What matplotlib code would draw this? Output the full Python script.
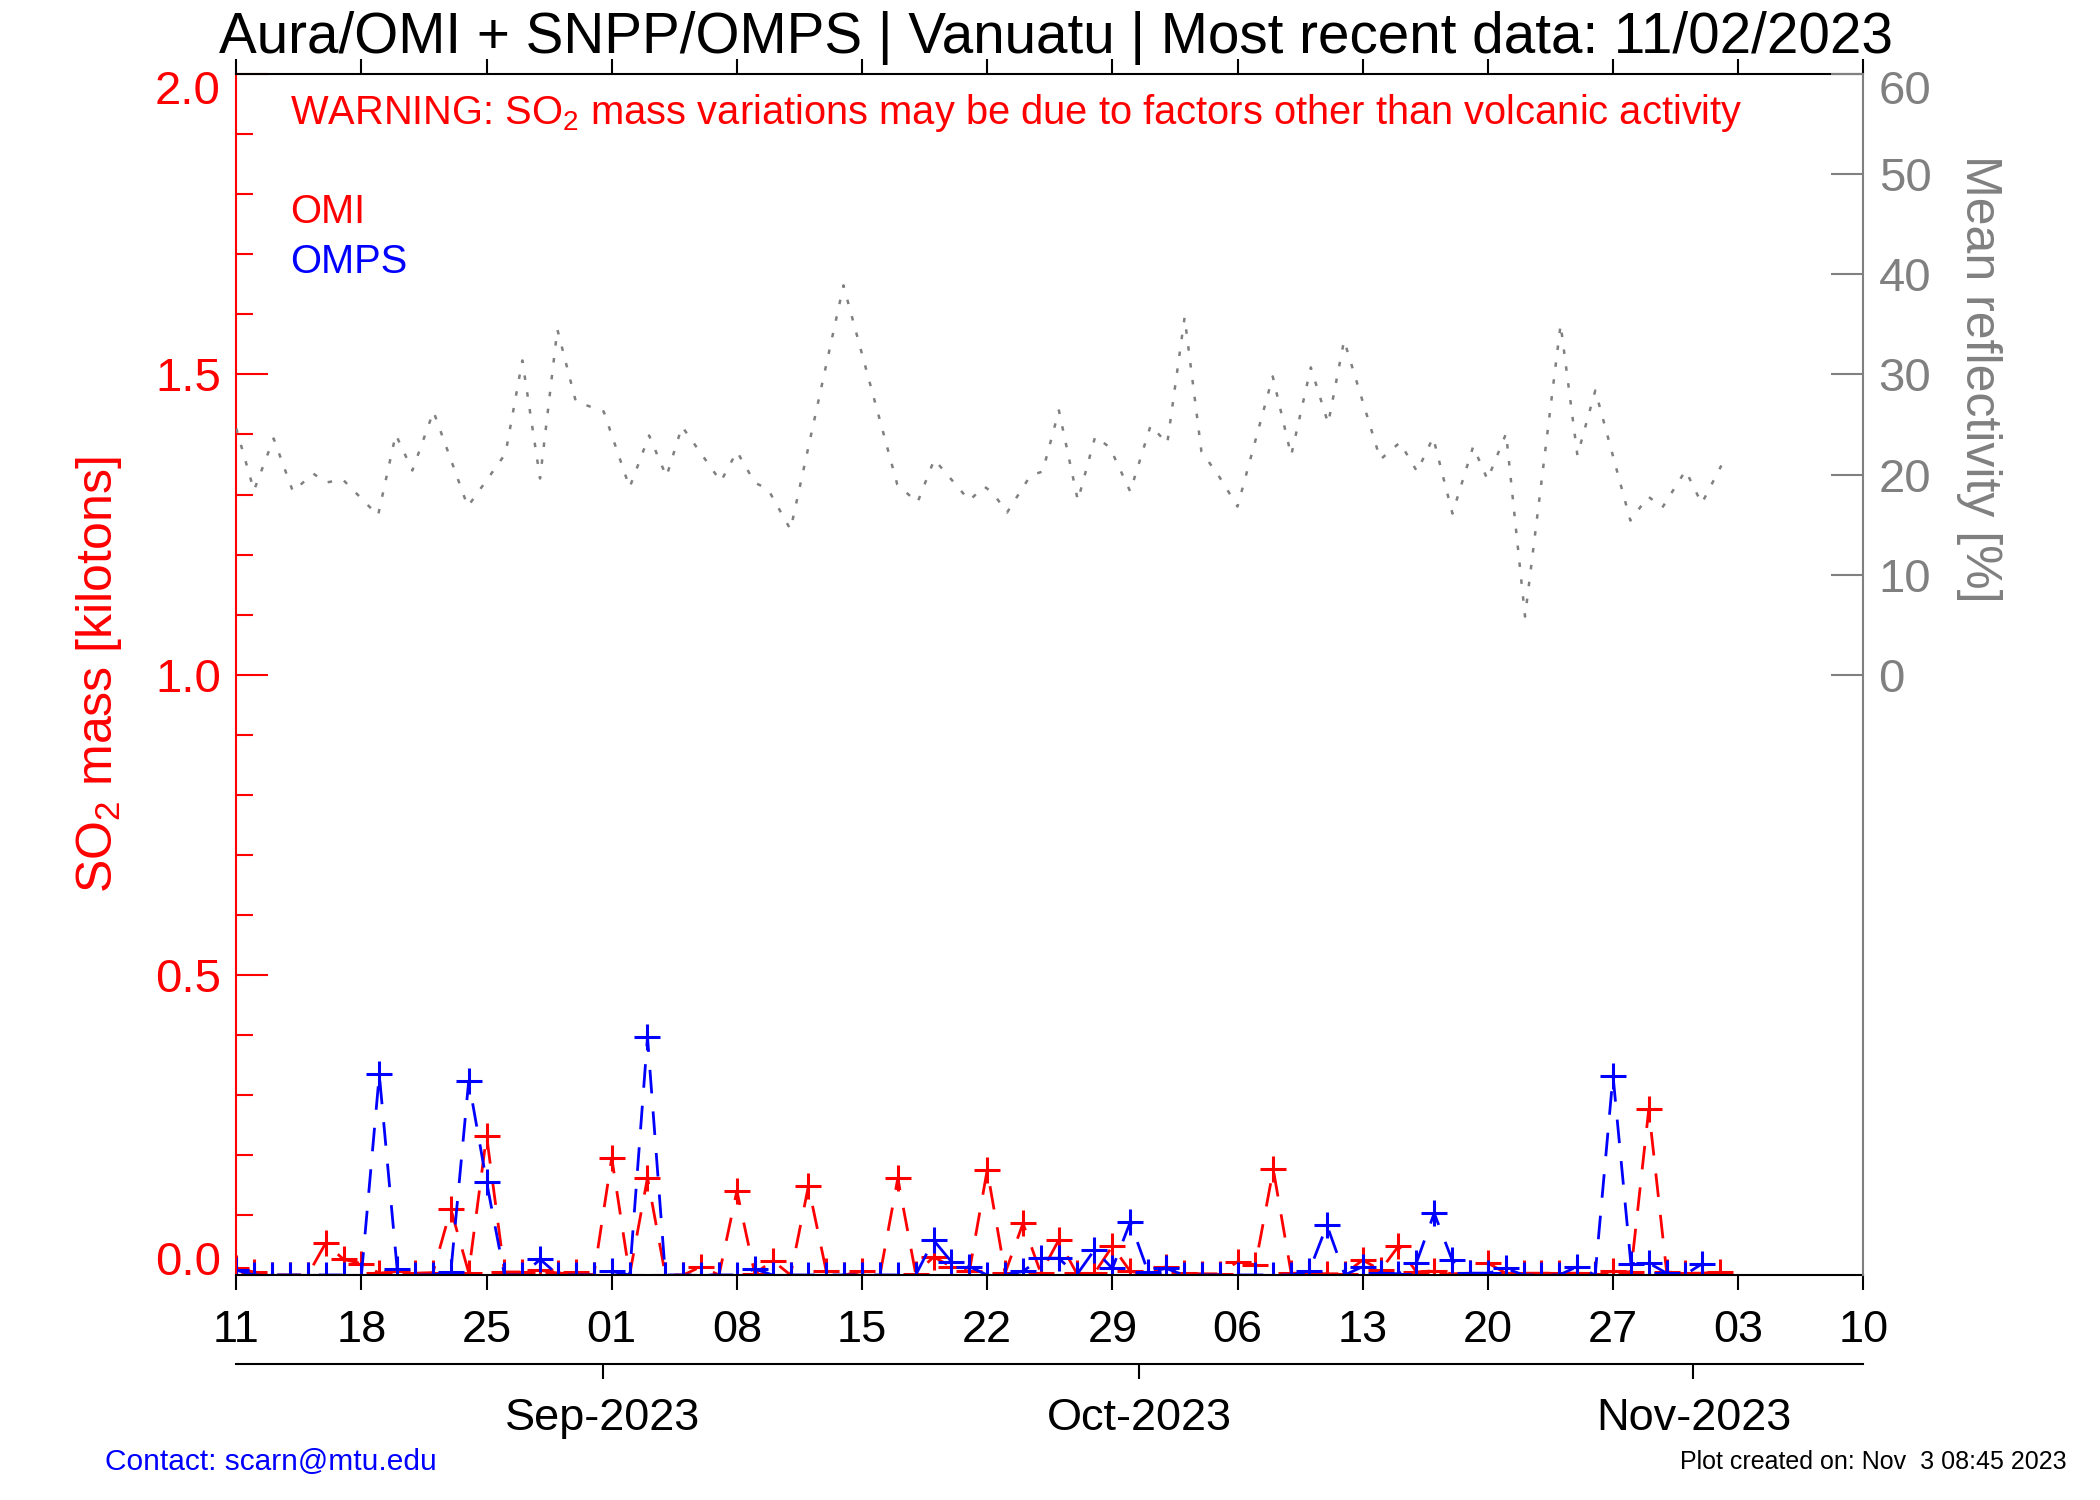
import matplotlib
matplotlib.use('Agg')
import matplotlib.pyplot as plt
import matplotlib.dates as mdates
import matplotlib.transforms as mtransforms
from matplotlib.ticker import MultipleLocator
import numpy as np
import pandas as pd

plt.rcParams['font.family'] = ['Liberation Sans', 'DejaVu Sans']
plt.rcParams['mathtext.default'] = 'regular'

start = pd.Timestamp('2023-08-11')
end = pd.Timestamp('2023-11-10')

# daily SO2 mass [kt], first value = Aug 11
omi_so2 = [0.011, 0.005, 0.0, 0.0, 0.0, 0.053, 0.026, 0.019, 0.003, 0.006,
           0.003, 0.004, 0.110, 0.004, 0.232, 0.005, 0.005, 0.008, 0.003, 0.005,
           0.0, 0.195, 0.0, 0.162, 0.0, 0.0, 0.014, 0.0, 0.140, 0.002,
           0.024, 0.0, 0.148, 0.006, 0.0, 0.006, 0.0, 0.161, 0.002, 0.030,
           0.014, 0.006, 0.175, 0.003, 0.086, 0.003, 0.058, 0.003, 0.003, 0.048,
           0.006, 0.002, 0.014, 0.003, 0.002, 0.002, 0.022, 0.017, 0.176, 0.003,
           0.003, 0.002, 0.002, 0.025, 0.008, 0.048, 0.005, 0.007, 0.002, 0.003,
           0.020, 0.003, 0.003, 0.003, 0.003, 0.003, 0.002, 0.006, 0.005, 0.276,
           0.005, 0.003, 0.003, 0.005]
omps_so2 = [0.008, 0.0, 0.0, 0.0, 0.0, 0.0, 0.0, 0.0, 0.334, 0.010,
            0.0, 0.0, 0.005, 0.323, 0.155, 0.0, 0.0, 0.026, 0.0, 0.0,
            0.0, 0.006, 0.0, 0.396, 0.0, 0.0, 0.0, 0.0, 0.0, 0.010,
            0.0, 0.0, 0.0, 0.0, 0.0, 0.0, 0.0, 0.0, 0.0, 0.058,
            0.022, 0.014, 0.0, 0.0, 0.006, 0.028, 0.028, 0.0, 0.042, 0.011,
            0.088, 0.005, 0.011, 0.0, 0.0, 0.0, 0.0, 0.0, 0.0, 0.0,
            0.006, 0.083, 0.0, 0.014, 0.003, 0.002, 0.020, 0.103, 0.025, 0.003,
            0.003, 0.011, 0.0, 0.0, 0.0, 0.014, 0.0, 0.332, 0.019, 0.020,
            0.003, 0.0, 0.019]

# mean reflectivity [%], time in days after Aug 11
refl_day = [0.0, 0.99, 2.09, 3.17, 4.30, 5.03, 5.96, 7.93, 8.92, 9.85,
            11.03, 12.95, 14.55, 15.06, 16.0, 16.99, 17.96, 18.99, 20.55, 22.0,
            23.09, 24.06, 24.93, 27.1, 28.0, 29.0, 29.75, 31.0, 33.96, 36.97,
            38.1, 39.04, 41.0, 41.83, 42.3, 43.11, 44.42, 45.1, 46.01, 47.07,
            48.04, 48.86, 50.0, 51.14, 52.07, 53.04, 53.98, 54.97, 56.0, 57.97,
            59.0, 60.1, 61.07, 61.96, 63.99, 65.08, 66.04, 66.94, 68.02, 69.18,
            69.98, 71.02, 72.08, 74.07, 75.01, 76.01, 77.97, 78.97, 79.76, 81.06,
            81.96, 83.06]
refl_pct = [24.6, 18.4, 23.6, 18.3, 20.1, 19.2, 19.5, 15.9, 24.0, 20.4,
            26.3, 16.8, 20.8, 22.1, 31.4, 19.6, 34.5, 27.3, 26.3, 18.7,
            23.9, 19.8, 24.8, 19.3, 22.3, 19.2, 18.5, 14.5, 38.9, 19.0,
            17.2, 21.5, 17.4, 18.8, 18.2, 16.2, 19.9, 20.3, 26.4, 17.4,
            23.8, 22.7, 18.3, 24.9, 23.1, 35.7, 22.3, 19.8, 16.8, 29.8,
            21.9, 30.7, 25.1, 33.4, 21.5, 23.2, 20.3, 23.7, 16.1, 22.8,
            19.5, 24.1, 5.8, 35.0, 21.9, 28.4, 15.4, 17.8, 16.7, 20.4,
            17.1, 20.9]

week_ticks = pd.date_range(start, end, freq='7D')
month_ticks = pd.to_datetime(['2023-09-01', '2023-10-01', '2023-11-01']) - pd.Timedelta(hours=12)
month_labels = ['Sep-2023', 'Oct-2023', 'Nov-2023']

omi_dates = pd.date_range(start, periods=len(omi_so2), freq='D')
omps_dates = pd.date_range(start, periods=len(omps_so2), freq='D')
refl_dates = start + pd.to_timedelta(refl_day, unit='D')

fig = plt.figure(figsize=(21, 15), dpi=100)
ax = fig.add_axes([0.1125, 0.15, 0.7748, 0.8005])
ax2 = ax.twinx()

ax2.plot(refl_dates, refl_pct, color='gray', lw=1.8, dashes=(1.8, 5))
ax.plot(omi_dates, omi_so2, color='red', lw=2, dashes=(8.5, 6.5),
        marker='+', ms=19, mew=2.2)
ax.plot(omps_dates, omps_so2, color='blue', lw=2, dashes=(8.5, 6.5),
        marker='+', ms=19, mew=2.2)

ax.set_xlim(start, end)
ax.set_ylim(0, 2)
ax2.set_ylim(-60, 60)

ax.set_xticks(week_ticks)
ax.xaxis.set_major_formatter(mdates.DateFormatter('%d'))
ax.tick_params(axis='x', direction='out', length=10.5, width=1.5, top=True,
               labelsize=32.5, pad=15, colors='black')

ax.set_yticks([0, 0.5, 1.0, 1.5, 2.0])
ax.set_yticklabels(['0.0', '0.5', '1.0', '1.5', '2.0'])
ax.yaxis.set_minor_locator(MultipleLocator(0.1))
ax.tick_params(axis='y', which='major', direction='in', length=23, width=1.5,
               colors='red', labelsize=34, pad=11, right=False)
ax.tick_params(axis='y', which='minor', direction='in', length=12, width=1.5,
               colors='red', right=False)

ax2.set_yticks(range(0, 61, 10))
ax2.tick_params(axis='y', direction='in', length=23, width=1.5, colors='gray',
                labelsize=34, pad=11)

for s in ['left', 'right', 'top', 'bottom']:
    ax.spines[s].set_linewidth(1.5)
    ax2.spines[s].set_linewidth(1.5)
ax.spines['left'].set_color('red')
ax.spines['right'].set_visible(False)
ax2.spines['left'].set_visible(False)
ax2.spines['top'].set_visible(False)
ax2.spines['bottom'].set_visible(False)
ax2.spines['right'].set_color('gray')

# month axis below the day axis
sec = ax.secondary_xaxis(-0.0741)
sec.set_xticks(mdates.date2num(month_ticks.to_pydatetime()), labels=month_labels)
sec.tick_params(direction='out', length=10.5, width=1.5, labelsize=32.5, pad=14)
sec.spines['bottom'].set_linewidth(1.5)

# end labels sit inside the box
def shift_label(tick, dy_px):
    off = mtransforms.ScaledTranslation(0, dy_px / 100, fig.dpi_scale_trans)
    tick.label1.set_transform(tick.label1.get_transform() + off)
    tick.label2.set_transform(tick.label2.get_transform() + off)

yt = ax.yaxis.get_major_ticks()
shift_label(yt[0], 17)
shift_label(yt[-1], -13)
shift_label(ax2.yaxis.get_major_ticks()[-1], -13)

ax.set_ylabel('SO$_2$ mass [kilotons]', color='red', fontsize=36, va='center')
ax.yaxis.set_label_coords(-0.0844, 0.5)
ax2.set_ylabel('Mean reflectivity [%]', color='gray', fontsize=36, rotation=270,
               va='center')
ax2.yaxis.set_label_coords(1.0711, 0.746)

ax.text(0.033, 0.9586, 'WARNING: SO$_2$ mass variations may be due to factors other than volcanic activity',
        transform=ax.transAxes, color='red', fontsize=28.7, va='baseline')
ax.text(0.033, 0.876, 'OMI', transform=ax.transAxes, color='red', fontsize=28.7, va='baseline')
ax.text(0.033, 0.8345, 'OMPS', transform=ax.transAxes, color='blue', fontsize=28.7, va='baseline')

fig.text(0.503, 0.9647, 'Aura/OMI + SNPP/OMPS | Vanuatu | Most recent data: 11/02/2023',
         ha='center', va='baseline', fontsize=40.8)
fig.text(0.05, 0.0253, 'Contact: scarn@mtu.edu', color='blue', fontsize=21.5, va='center')
fig.text(0.984, 0.0253, 'Plot created on: Nov  3 08:45 2023', color='black', fontsize=18,
         ha='right', va='center')

fig.savefig('out.png', dpi=100)
